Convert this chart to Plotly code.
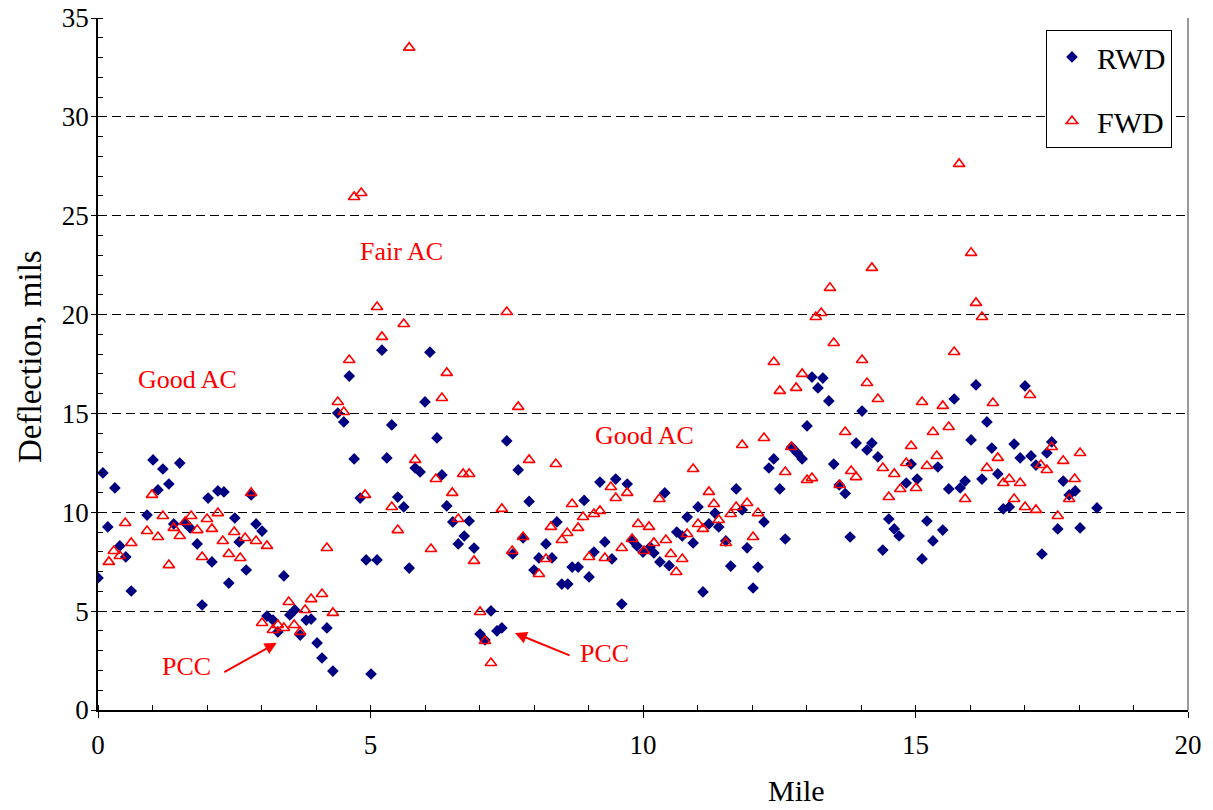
import plotly.graph_objects as go

# RWD data (mile, deflection)
rwd_mile = [0.00,0.09,0.18,0.31,0.40,0.51,0.61,0.90,1.01,1.10,1.19,1.30,1.39,1.50,1.60,1.69,1.82,1.91,2.02,2.09,
            2.20,2.31,2.40,2.51,2.59,2.72,2.81,2.90,3.01,3.10,3.21,3.30,3.41,3.52,3.61,3.71,3.82,3.91,4.02,4.11,
            4.20,4.31,4.40,4.51,4.61,4.70,4.81,4.92,5.01,5.12,5.21,5.30,5.39,5.50,5.61,5.71,5.82,5.91,6.00,6.09,
            6.22,6.31,6.40,6.51,6.61,6.72,6.81,6.90,7.01,7.10,7.21,7.32,7.41,7.50,7.61,7.71,7.80,7.91,8.00,8.09,
            8.22,8.33,8.42,8.51,8.62,8.70,8.81,8.92,9.01,9.10,9.21,9.30,9.43,9.50,9.61,9.71,9.80,9.89,10.00,10.13,
            10.20,10.31,10.40,10.48,10.62,10.72,10.81,10.92,11.01,11.10,11.21,11.32,11.39,11.52,11.61,11.71,11.82,11.91,12.02,12.11,
            12.22,12.31,12.40,12.51,12.61,12.73,12.83,12.92,13.01,13.10,13.21,13.30,13.41,13.50,13.60,13.71,13.80,13.91,14.02,14.11,
            14.20,14.31,14.40,14.51,14.61,14.70,14.83,14.92,15.03,15.12,15.21,15.32,15.41,15.50,15.61,15.71,15.82,15.91,16.02,16.11,
            16.22,16.31,16.40,16.51,16.61,16.72,16.81,16.92,17.01,17.12,17.21,17.32,17.41,17.50,17.61,17.71,17.82,17.93,18.02,18.33]
rwd_defl = [6.68,11.99,9.26,11.23,8.30,7.74,6.02,9.86,12.65,11.13,12.19,11.43,9.41,12.49,9.46,9.21,8.40,5.31,10.72,7.49,
            11.08,11.03,6.42,9.71,8.50,7.08,10.88,9.41,9.05,4.75,4.55,3.95,6.78,4.81,5.06,3.79,4.55,4.60,3.39,2.63,
            4.15,1.97,15.02,14.57,16.89,12.70,10.72,7.59,1.82,7.59,18.20,12.75,14.42,10.77,10.27,7.18,12.24,12.04,15.58,18.10,
            13.76,11.89,10.32,9.51,8.40,8.80,9.56,8.19,3.84,3.54,5.01,4.00,4.15,13.61,7.89,12.14,8.70,10.55,7.08,7.69,
            8.40,7.69,9.51,6.37,6.37,7.23,7.23,10.60,6.73,7.99,11.53,8.50,7.64,11.68,5.36,11.43,8.60,8.30,7.99,8.24,
            7.94,7.49,10.98,7.30,9.00,8.80,9.76,8.45,10.27,5.97,9.41,9.96,9.26,8.55,7.28,11.18,10.12,8.20,6.17,7.23,
            9.51,12.24,12.70,11.18,8.65,13.30,13.00,12.70,14.37,16.84,16.29,16.79,15.63,12.44,11.38,10.95,8.75,13.50,15.12,13.15,
            13.50,12.80,8.09,9.66,9.16,8.80,11.48,12.44,11.68,7.64,9.56,8.55,12.29,9.10,11.18,15.73,11.23,11.58,13.66,16.44,
            11.68,14.57,13.25,11.94,10.17,10.27,13.45,12.75,16.39,12.85,12.39,7.89,13.00,13.56,9.16,11.58,10.88,11.08,9.21,10.22]

# FWD data (mile, deflection)
fwd_mile = [0.20,0.29,0.40,0.50,0.61,0.90,0.99,1.10,1.19,1.30,1.39,1.50,1.60,1.71,1.82,1.91,2.00,2.09,2.20,2.29,
            2.40,2.50,2.61,2.70,2.81,2.90,3.01,3.10,3.21,3.30,3.41,3.50,3.60,3.71,3.80,3.91,4.11,4.20,4.31,4.40,
            4.51,4.61,4.70,4.83,4.90,5.12,5.21,5.39,5.50,5.61,5.71,5.82,6.11,6.20,6.31,6.40,6.50,6.61,6.70,6.81,
            6.90,7.01,7.10,7.21,7.41,7.50,7.60,7.71,7.80,7.91,8.09,8.22,8.31,8.40,8.51,8.61,8.70,8.81,8.90,9.01,
            9.10,9.21,9.30,9.41,9.50,9.61,9.71,9.80,9.91,10.02,10.11,10.20,10.30,10.42,10.51,10.61,10.72,10.81,10.92,11.01,
            11.10,11.21,11.30,11.39,11.52,11.61,11.71,11.82,11.91,12.02,12.11,12.22,12.40,12.51,12.61,12.72,12.81,12.92,13.01,13.10,
            13.17,13.27,13.43,13.50,13.61,13.71,13.82,13.91,14.02,14.11,14.20,14.31,14.40,14.51,14.61,14.72,14.83,14.92,15.01,15.12,
            15.21,15.32,15.39,15.50,15.61,15.71,15.80,15.91,16.02,16.11,16.22,16.31,16.42,16.51,16.61,16.72,16.81,16.92,17.01,17.10,
            17.21,17.30,17.41,17.50,17.61,17.71,17.82,17.92,18.02]
fwd_defl = [7.49,8.04,7.79,9.46,8.45,9.05,10.88,8.75,9.81,7.33,9.21,8.80,9.51,9.81,9.10,7.74,9.66,9.16,9.96,8.55,
            7.89,9.00,7.69,8.70,10.98,8.55,4.40,8.30,4.05,4.30,4.15,5.46,4.30,3.95,5.06,5.61,5.87,8.19,4.91,15.58,
            15.07,17.70,25.95,26.15,10.88,20.38,18.87,10.27,9.10,19.52,33.50,12.65,8.14,11.68,15.78,17.05,10.98,9.66,11.94,11.94,
            7.54,4.96,3.49,2.38,10.17,20.13,8.04,15.33,8.75,12.65,6.88,7.64,9.26,12.44,8.60,8.95,10.42,9.21,9.76,7.74,
            9.91,10.07,7.69,11.28,10.72,8.19,10.98,8.65,9.41,8.04,9.26,8.45,10.67,8.60,7.89,6.98,7.64,8.90,12.19,9.41,
            9.16,11.03,10.42,9.61,8.45,9.91,10.27,13.40,10.47,8.75,9.96,13.76,17.60,16.14,12.04,13.30,16.29,17.00,11.63,11.73,
            19.88,20.08,21.35,18.56,11.38,14.06,12.09,11.78,17.70,16.54,22.36,15.73,12.24,10.77,11.94,11.18,12.49,13.35,11.23,15.58,
            12.34,14.06,12.85,15.38,14.31,18.11,27.62,10.67,23.12,20.59,19.88,12.24,15.53,12.75,11.48,11.68,10.67,11.48,10.27,15.93,
            10.12,12.39,12.14,13.30,9.81,12.60,10.67,11.68,13.00]

x_ticks = [0, 5, 10, 15, 20]
y_ticks = [0, 5, 10, 15, 20, 25, 30, 35]

SERIF = "Liberation Serif"

fig = go.Figure()
fig.add_trace(go.Scatter(
    x=rwd_mile, y=rwd_defl, mode="markers", name="RWD", legendgroup="a",
    marker=dict(symbol="diamond", size=9, color="#000080", line=dict(width=0)),
))
fig.add_trace(go.Scatter(
    x=fwd_mile, y=fwd_defl, mode="markers", name="FWD", legendgroup="b",
    marker=dict(symbol="triangle-up-open", size=10, color="#FF0000", line=dict(width=1.6, color="#FF0000")),
))

ann_font = dict(family=SERIF, size=26, color="#FF0000")
title_font = dict(family=SERIF, size=33, color="black")
annotations = [
    dict(x=1.65, y=16.7, text="Good AC", showarrow=False, font=ann_font),
    dict(x=5.56, y=23.2, text="Fair AC", showarrow=False, font=ann_font),
    dict(x=10.02, y=13.86, text="Good AC", showarrow=False, font=ann_font),
    dict(x=1.63, y=2.2, text="PCC", showarrow=False, font=ann_font),
    dict(x=9.30, y=2.88, text="PCC", showarrow=False, font=ann_font),
    dict(x=3.28, y=3.40, ax=2.29, ay=1.87, axref="x", ayref="y", xref="x", yref="y",
         text="", showarrow=True, arrowhead=2, arrowsize=1.2, arrowwidth=2, arrowcolor="#FF0000", standoff=0),
    dict(x=7.65, y=3.89, ax=8.68, ay=2.73, axref="x", ayref="y", xref="x", yref="y",
         text="", showarrow=True, arrowhead=2, arrowsize=1.2, arrowwidth=2, arrowcolor="#FF0000", standoff=0),
    dict(x=-0.0624, y=0.5116, xref="paper", yref="paper", text="Deflection, mils", textangle=-90,
         xanchor="center", yanchor="middle", showarrow=False, font=title_font),
    dict(x=0.641, y=-0.116, xref="paper", yref="paper", text="Mile",
         xanchor="center", yanchor="middle", showarrow=False, font=dict(family=SERIF, size=30, color="black")),
]

fig.update_layout(
    width=1213, height=810,
    margin=dict(l=98, r=25, t=18, b=100, autoexpand=False),
    paper_bgcolor="white", plot_bgcolor="white",
    font=dict(family=SERIF, size=26, color="black"),
    showlegend=True,
    legend=dict(x=0.8697, y=0.9827, xanchor="left", yanchor="top",
                bordercolor="black", borderwidth=1, bgcolor="white",
                font=dict(family=SERIF, size=30), tracegroupgap=22,
                itemwidth=40),
    annotations=annotations,
    shapes=[dict(type="line", xref="paper", yref="paper", x0=1, x1=1, y0=0, y1=1,
                 line=dict(color="#999999", width=2))],
)

fig.update_xaxes(
    range=[0, 20], tickvals=x_ticks, ticks="outside", ticklen=6, tickcolor="black",
    showline=True, linecolor="black", linewidth=1.5, showgrid=False, zeroline=False,
    automargin=False, tickfont=dict(family=SERIF, size=27), ticklabelstandoff=4,
    minor=dict(dtick=1, ticks="inside", ticklen=5, tickcolor="black", showgrid=False),
)
fig.update_yaxes(
    range=[0, 35], tickvals=y_ticks, ticks="outside", ticklen=5, tickcolor="black",
    showline=True, linecolor="black", linewidth=1.5, zeroline=False,
    showgrid=True, gridcolor="black", gridwidth=1, griddash="9px,5px",
    automargin=False, tickfont=dict(family=SERIF, size=27), ticklabelstandoff=-3,
    minor=dict(dtick=1, ticks="inside", ticklen=5, tickcolor="black", showgrid=False),
)

fig.write_html("out.html", config={"displayModeBar": False},
               post_script="document.body.style.margin='0px';")
